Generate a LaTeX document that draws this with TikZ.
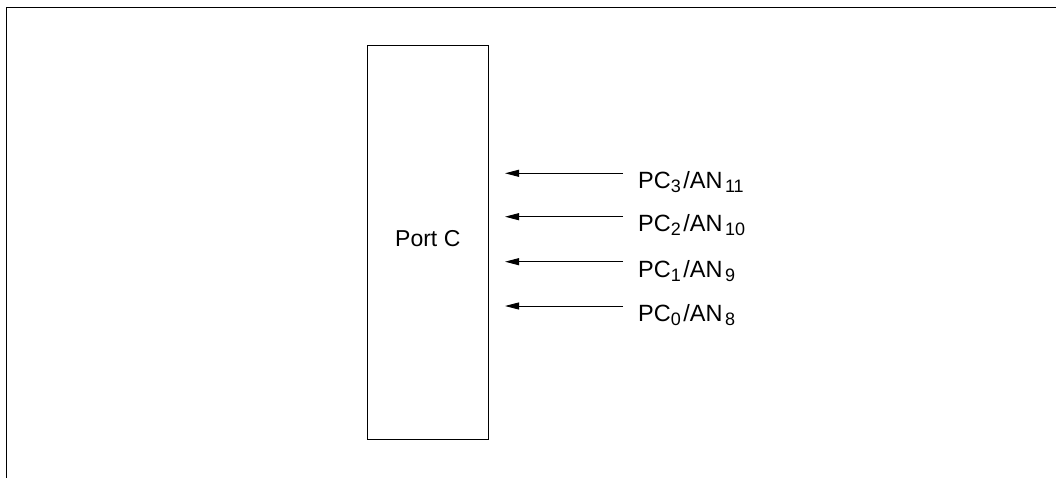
\documentclass[tikz,border=0pt]{standalone}
\usepackage{fontspec}
\setmainfont{Liberation Sans}
\usetikzlibrary{arrows.meta}
\newcommand\lowsub[1]{\raisebox{-4pt}{\fontsize{18}{19}\selectfont #1}}
\begin{document}
\begin{tikzpicture}[x=1pt,y=-1pt,
  lbl/.style={anchor=base west,inner sep=0pt,font=\fontsize{23.5}{26}\selectfont},
  sig/.style={line width=0.9pt,-{Triangle[length=14pt,width=7pt]}}]
\useasboundingbox (0,0) rectangle (1056,478);
\draw[line width=1.5pt] (6.5,478) -- (6.5,7.5) -- (1056,7.5);
\node[draw,line width=1.3pt,minimum width=121pt,minimum height=393.5pt,inner sep=0pt] (port) at (427.8,242.5) {};
\node[anchor=base west,inner sep=0pt,font=\fontsize{23}{26}\selectfont] (plabel) at (395,247) {Port C};
\coordinate (s3) at (623,173.3);
\coordinate (s2) at (623,216.7);
\coordinate (s1) at (623,261.7);
\coordinate (s0) at (623,306);
\coordinate (t3) at (505,173.3);
\coordinate (t2) at (505,216.7);
\coordinate (t1) at (505,261.7);
\coordinate (t0) at (505,306);
\draw[sig] (s3) -- (t3);
\draw[sig] (s2) -- (t2);
\draw[sig] (s1) -- (t1);
\draw[sig] (s0) -- (t0);
\node[lbl] (l3) at (638,188.5) {PC\lowsub{3}\kern2.5pt/AN\kern2.5pt\lowsub{11}};
\node[lbl] (l2) at (638,232) {PC\lowsub{2}\kern2.5pt/AN\kern2.5pt\lowsub{10}};
\node[lbl] (l1) at (638,277) {PC\lowsub{1}\kern2.5pt/AN\kern2.5pt\lowsub{9}};
\node[lbl] (l0) at (638,321.3) {PC\lowsub{0}\kern2.5pt/AN\kern2.5pt\lowsub{8}};
\end{tikzpicture}
\end{document}
